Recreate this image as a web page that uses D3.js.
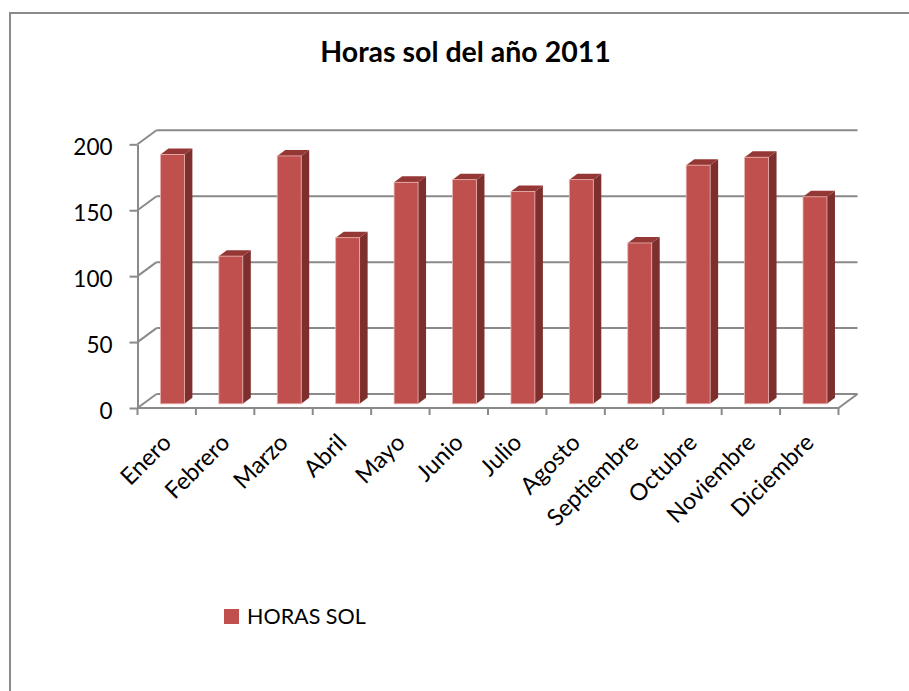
<!DOCTYPE html>
<html>
<head>
<meta charset="utf-8">
<script src="https://cdn.jsdelivr.net/npm/d3@7"></script>
<style>
body { margin: 0; background: #fff; }
text { font-family: Lato, "Open Sans", sans-serif; fill: #000; }
</style>
</head>
<body>
<svg id="chart" width="909" height="691"></svg>
<script>
var meses = ["Enero", "Febrero", "Marzo", "Abril", "Mayo", "Junio", "Julio",
             "Agosto", "Septiembre", "Octubre", "Noviembre", "Diciembre"];
var horasSol = [189, 112, 188, 126, 168, 170, 161, 170, 122, 181, 187, 157];
var ticksY = [0, 50, 100, 150, 200];
var serie = "HORAS SOL";
var titulo = "Horas sol del año 2011";

var svg = d3.select("#chart");

// plot box (front plane) and depth of the 3d walls
var left = 137.5, right = 838.5, floorY = 408, topY = 144.3;
var depthX = 19, depthY = -14;
var gridColor = "#8a8a8a";

// bar offsets inside the floor depth
var barDX = 5.7, barDY = -4.2, barDepthX = 8, barDepthY = -6;

svg.append("rect")
    .attr("x", 10)
    .attr("y", 13)
    .attr("width", 940)
    .attr("height", 720)
    .attr("fill", "none")
    .attr("stroke", "#8a8a8a")
    .attr("stroke-width", 2);

svg.append("text")
    .attr("x", 465.5)
    .attr("y", 62)
    .attr("text-anchor", "middle")
    .style("font-size", "28.5px")
    .style("font-weight", "bold")
    .text(titulo);

var x = d3.scaleBand().domain(meses).range([left, right]);
var y = d3.scaleLinear().domain([0, 200]).range([floorY, topY]);

// back wall gridlines
svg.append("g").selectAll("line")
    .data(ticksY)
    .join("line")
    .attr("x1", left + depthX)
    .attr("x2", right + depthX)
    .attr("y1", function (d) { return y(d) + depthY; })
    .attr("y2", function (d) { return y(d) + depthY; })
    .attr("stroke", gridColor)
    .attr("stroke-width", 2);

// side wall gridlines
svg.append("g").selectAll("line")
    .data(ticksY)
    .join("line")
    .attr("x1", left)
    .attr("x2", left + depthX)
    .attr("y1", function (d) { return y(d); })
    .attr("y2", function (d) { return y(d) + depthY; })
    .attr("stroke", gridColor)
    .attr("stroke-width", 2);

// floor front edge and right edge
svg.append("path")
    .attr("d", "M" + left + "," + floorY + "H" + right + "l" + depthX + "," + depthY)
    .attr("fill", "none")
    .attr("stroke", gridColor)
    .attr("stroke-width", 2);

var yAxis = d3.axisLeft(y)
    .tickValues(ticksY)
    .tickSize(8)
    .tickSizeOuter(0)
    .tickPadding(17);

var gy = svg.append("g")
    .attr("transform", "translate(" + left + ",0)")
    .call(yAxis);
gy.select(".domain").attr("stroke", gridColor).attr("stroke-width", 2);
gy.selectAll(".tick line").attr("stroke", gridColor).attr("stroke-width", 2);
gy.selectAll(".tick text")
    .attr("dy", "0.45em")
    .style("font-size", "22.5px")
    .style("font-family", "Lato, sans-serif");

// x ticks at band edges
var edges = meses.map(function (m) { return x(m); }).concat([right]);
svg.append("g").selectAll("line")
    .data(edges)
    .join("line")
    .attr("x1", function (d) { return d; })
    .attr("x2", function (d) { return d; })
    .attr("y1", floorY)
    .attr("y2", floorY + 7)
    .attr("stroke", gridColor)
    .attr("stroke-width", 2);

// 3d columns
var bw = x.bandwidth() * 0.41;
var barras = svg.append("g").selectAll("g")
    .data(meses)
    .join("g");

function bx(m) { return x(m) + x.bandwidth() / 2 + barDX - bw / 2; }
function by(i) { return y(horasSol[i]) + barDY; }

barras.append("path")
    .attr("d", function (m, i) {
        var x1 = bx(m) + bw, t = by(i), b = y(0) + barDY;
        return "M" + x1 + "," + t + "l" + barDepthX + "," + barDepthY +
            "V" + (b + barDepthY) + "L" + x1 + "," + b + "Z";
    })
    .attr("fill", "#7d2f2d");

barras.append("path")
    .attr("d", function (m, i) {
        var x0 = bx(m), t = by(i);
        return "M" + x0 + "," + t + "l" + barDepthX + "," + barDepthY +
            "h" + bw + "l" + (-barDepthX) + "," + (-barDepthY) + "Z";
    })
    .attr("fill", "#953835");

barras.append("rect")
    .attr("x", function (m) { return bx(m); })
    .attr("y", function (m, i) { return by(i); })
    .attr("width", bw)
    .attr("height", function (m, i) { return y(0) - y(horasSol[i]); })
    .attr("fill", "#c0504d")
    .attr("stroke", "#e8b2b0")
    .attr("stroke-width", 0.8);

// month labels
svg.append("g").selectAll("text")
    .data(meses)
    .join("text")
    .attr("text-anchor", "end")
    .attr("transform", function (m) {
        return "translate(" + (x(m) + x.bandwidth() / 2 + 6) + ",444) rotate(-45)";
    })
    .style("font-size", "23.5px")
    .text(function (m) { return m; });

// legend
svg.append("rect")
    .attr("x", 224)
    .attr("y", 609)
    .attr("width", 15)
    .attr("height", 15)
    .attr("fill", "#c0504d");

svg.append("text")
    .attr("x", 247)
    .attr("y", 623.5)
    .style("font-size", "21.5px")
    .text(serie);
</script>
</body>
</html>
